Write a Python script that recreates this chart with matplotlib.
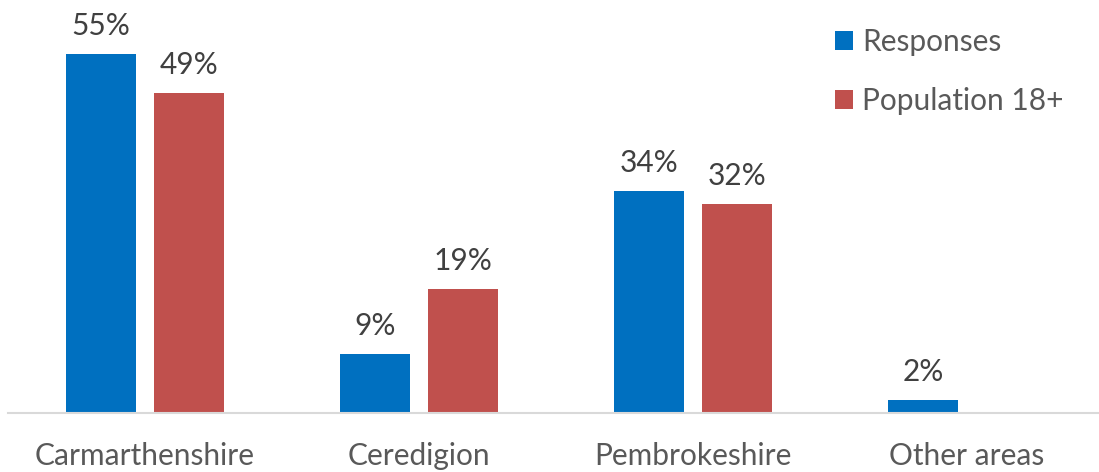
import matplotlib
matplotlib.use("Agg")
import matplotlib.pyplot as plt
import numpy as np

categories = ["Carmarthenshire", "Ceredigion", "Pembrokeshire", "Other areas"]
responses = [55, 9, 34, 2]
population = [49, 19, 32, None]
series_names = ["Responses", "Population 18+"]

plt.rcParams['font.family'] = ['Lato', 'DejaVu Sans']
FS = 21.5

fig = plt.figure(figsize=(10.99, 4.72), dpi=100)
ax = fig.add_axes([8 / 1099, 59 / 472, 1096 / 1099, 391.5 / 472])

x = np.arange(len(categories))
w = 0.252
off = 0.1606
blue = "#0070C0"
red = "#C0504D"

pop_vals = [v if v is not None else 0 for v in population]
b1 = ax.bar(x - off, responses, w, color=blue, label=series_names[0])
b2 = ax.bar(x + off, pop_vals, w, color=red, label=series_names[1])

for xi, v in zip(x - off, responses):
    ax.annotate(f"{v}%", (xi, v), xytext=(0, 14), textcoords="offset points",
                ha="center", va="baseline", fontsize=FS, color="#404040")
for xi, v in zip(x + off, population):
    if v is None:
        continue
    ax.annotate(f"{v}%", (xi, v), xytext=(0, 14), textcoords="offset points",
                ha="center", va="baseline", fontsize=FS, color="#404040")

ax.set_xlim(-0.5, 3.5)
ax.set_ylim(0, 60)
ax.set_xticks(x)
ax.set_xticklabels(categories, fontsize=FS, color="#595959")
ax.tick_params(axis="x", length=0, pad=21)
ax.set_yticks([])
for s in ["top", "right", "left"]:
    ax.spines[s].set_visible(False)
ax.spines["bottom"].set_color("#D9D9D9")
ax.spines["bottom"].set_linewidth(1.5)

leg = ax.legend(handles=[b1, b2], loc="upper left", bbox_to_anchor=(835 / 1099, 1 - 28 / 472),
                bbox_transform=fig.transFigure, frameon=False, fontsize=FS,
                handlelength=0.6, handleheight=0.6, handletextpad=0.3,
                labelspacing=1.05, borderpad=0, borderaxespad=0)
for t in leg.get_texts():
    t.set_color("#595959")

fig.savefig("out.png", dpi=100)
